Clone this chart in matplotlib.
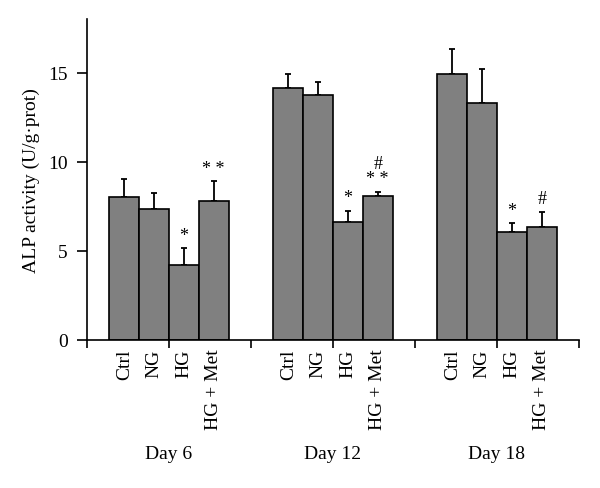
import numpy as np
import matplotlib
matplotlib.use("Agg")
import matplotlib.pyplot as plt
from matplotlib.transforms import blended_transform_factory

plt.rcParams['font.family'] = ['Liberation Serif', 'DejaVu Serif']

# Data
days = ["Day 6", "Day 12", "Day 18"]
groups = ["Ctrl", "NG", "HG", "HG + Met"]
means = [
    [8.0, 7.35, 4.18, 7.78],
    [14.12, 13.75, 6.6, 8.06],
    [14.94, 13.3, 6.04, 6.32],
]
errors = [
    [1.03, 0.91, 0.97, 1.12],
    [0.77, 0.70, 0.66, 0.26],
    [1.38, 1.92, 0.52, 0.88],
]
marks = [
    ["", "", "*", "* *"],
    ["", "", "*", "#\n* *"],
    ["", "", "*", "#"],
]

fig = plt.figure(figsize=(6, 4.89), dpi=100)
ax = fig.add_axes([0.145, 0.3027, 0.82, 0.6563])

group_w = 5.5
offsets = np.array([-1.5, -0.5, 0.5, 1.5])
centers = []
for d in range(len(days)):
    c = group_w / 2 + group_w * d
    xs = c + offsets
    centers.extend(xs)
    ax.bar(xs, means[d], width=1.0, color="#808080", edgecolor="black",
           linewidth=1.2, zorder=2)
    ax.errorbar(xs, means[d], yerr=[np.zeros(4), errors[d]], fmt="none",
                ecolor="black", elinewidth=1.3, capsize=2.5, capthick=1.3,
                zorder=1)
    for x, m, e, s in zip(xs, means[d], errors[d], marks[d]):
        if s:
            ax.annotate(s, (x, m + e), xytext=(0, 3), textcoords="offset points",
                        ha="center", va="bottom", fontsize=13, linespacing=0.9)

ax.set_xlim(0, group_w * 3)
ax.set_ylim(0, 18)
ax.set_yticks([0, 5, 10, 15])
ax.set_xticks(np.arange(0, group_w * 3 + 0.01, group_w / 2))
ax.set_xticklabels([])
ax.set_xticks(centers, minor=True)
ax.set_xticklabels(groups * 3, minor=True, rotation=90, fontsize=14)
ax.tick_params(axis="x", which="minor", length=0, pad=6)
ax.tick_params(axis="x", which="major", direction="out", length=6, width=1.2)
ax.tick_params(axis="y", direction="out", length=7, width=1.2, labelsize=14, pad=7)
for sp in ["top", "right"]:
    ax.spines[sp].set_visible(False)
for sp in ["left", "bottom"]:
    ax.spines[sp].set_linewidth(1.2)

tr = blended_transform_factory(ax.transData, ax.transAxes)
for d, name in enumerate(days):
    ax.text(group_w / 2 + group_w * d, -0.355, name, transform=tr,
            ha="center", va="center", fontsize=14)

ax.set_ylabel("ALP activity (U/g\u00b7prot)", fontsize=14, labelpad=6)

fig.savefig("out.png", dpi=100)
